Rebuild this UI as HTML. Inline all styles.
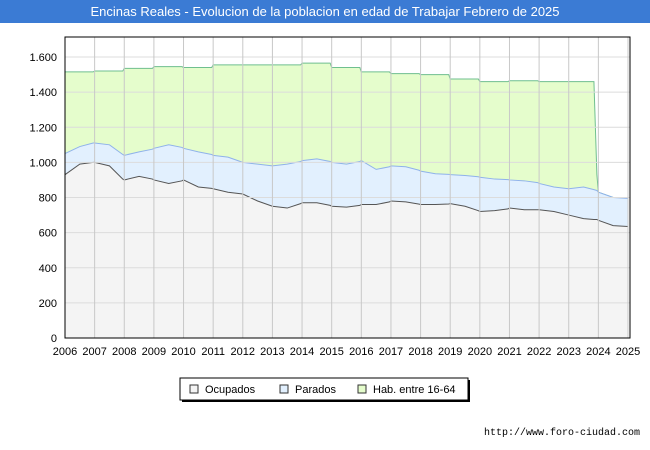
<!DOCTYPE html>
<html><head><meta charset="utf-8"><style>
body{margin:0;width:650px;height:450px;background:#fff;font-family:"Liberation Sans",sans-serif;overflow:hidden;position:relative}
.title{position:absolute;left:0;top:0;width:650px;height:23px;background:#3b7bd4;color:#fff;font-size:13px;text-align:center;line-height:23px}
.url{position:absolute;right:10px;top:428px;font-size:10px;font-family:"Liberation Mono",monospace}
</style></head><body>
<div class="title">Encinas Reales - Evolucion de la poblacion en edad de Trabajar Febrero de 2025</div>
<svg id="c" width="650" height="450" style="position:absolute;left:0;top:0"></svg>
<div class="url">http://www.foro-ciudad.com</div>
<script>
const years=[2006,2007,2008,2009,2010,2011,2012,2013,2014,2015,2016,2017,2018,2019,2020,2021,2022,2023,2024,2025];
const yTicks=[0,200,400,600,800,1000,1200,1400,1600];
const t=[2006,2006.5,2006.95,2007,2007.5,2007.95,2008,2008.5,2008.95,2009,2009.5,2009.95,2010,2010.5,2010.95,2011,2011.5,2012,2012.5,2013,2013.5,2013.95,2014,2014.5,2014.95,2015,2015.5,2015.95,2016,2016.5,2016.95,2017,2017.5,2017.95,2018,2018.5,2018.95,2019,2019.5,2019.95,2020,2020.5,2020.95,2021,2021.5,2021.95,2022,2022.5,2023,2023.5,2023.85,2023.95,2024,2024.5,2025];
const hab=[1515,1515,1515,1520,1520,1520,1535,1535,1535,1545,1545,1545,1540,1540,1540,1555,1555,1555,1555,1555,1555,1555,1565,1565,1565,1540,1540,1540,1515,1515,1515,1505,1505,1505,1500,1500,1500,1475,1475,1475,1460,1460,1460,1465,1465,1465,1460,1460,1460,1460,1460,930,830,800,795];
const parados=[1050,1090,1110,1110,1100,1045,1040,1060,1075,1080,1100,1085,1080,1060,1045,1040,1030,1000,990,980,990,1005,1010,1020,1005,1000,990,1005,1010,960,975,980,975,955,950,935,932,930,925,918,915,905,902,900,895,885,880,860,850,860,845,840,830,800,795];
const ocupados=[930,990,1000,1000,980,905,900,920,905,900,880,895,900,860,852,850,830,820,780,750,740,765,770,770,755,750,745,755,760,760,775,780,775,762,760,760,763,765,750,725,720,725,735,740,730,730,730,720,700,680,675,675,670,640,635];
const NS='http://www.w3.org/2000/svg';
const svg=document.getElementById('c');
const X0=65,X1=628,Y0=338,Ytop=57;
const xs=v=>X0+(v-2006)*(X1-X0)/19;
const ys=v=>Y0-v*(Y0-Ytop)/1600;
function el(tag,attrs,txt){const e=document.createElementNS(NS,tag);for(const k in attrs)e.setAttribute(k,attrs[k]);if(txt!=null)e.textContent=txt;svg.appendChild(e);return e;}
let bg=el('rect',{x:65,y:37,width:565,height:301,fill:'#fff'});


function area(vals,fill,stroke,name){
  let d='M'+xs(t[0])+','+ys(0);
  vals.forEach((v,i)=>{d+=' L'+xs(t[i])+','+ys(v);});
  d+=' L'+xs(t[t.length-1])+','+ys(0)+'Z';
  const a=el('path',{d:d,fill:fill});
  
  
  let l='';vals.forEach((v,i)=>{l+=(i?' L':'M')+xs(t[i])+','+ys(v);});
  const p=el('path',{d:l,fill:'none',stroke:stroke,'stroke-width':1});
  
  
}
area(hab,'#e5fdcc','#6fbf8f','hab');
area(parados,'#e2f0fe','#8fb2ea','parados');
area(ocupados,'#f4f4f4','#555','ocupados');
yTicks.forEach(v=>{
  const g=el('line',{x1:65,x2:630,y1:ys(v),y2:ys(v),stroke:'#dcdcdc'});
  
  
  const tx=el('text',{x:57,y:ys(v)+4,'font-size':11,'text-anchor':'end'},v.toLocaleString('de-DE'));
  
  
});
years.forEach(y=>{
  const g=el('line',{x1:xs(y),x2:xs(y),y1:37,y2:338,stroke:'#c8c8c8'});
  
  
  const tx=el('text',{x:xs(y),y:355,'font-size':11,'text-anchor':'middle'},y);
  
  
});
const fr=el('rect',{x:65,y:37,width:565,height:301,fill:'none',stroke:'#000'});


const lg=el('rect',{x:180,y:378,width:288,height:22,fill:'#fff',stroke:'#000'});


el('rect',{x:182,y:400,width:288,height:2,fill:'#000'});
el('rect',{x:468,y:380,width:2,height:22,fill:'#000'});
const items=[['Ocupados','#f4f4f4',190],['Parados','#e2f0fe',280],['Hab. entre 16-64','#e5fdcc',358]];
items.forEach(it=>{
  const s=el('rect',{x:it[2],y:385,width:8,height:8,fill:it[1],stroke:'#333'});
  
  
  const tx=el('text',{x:it[2]+15,y:393,'font-size':11},it[0]);
  
  
});
</script>
</body></html>
